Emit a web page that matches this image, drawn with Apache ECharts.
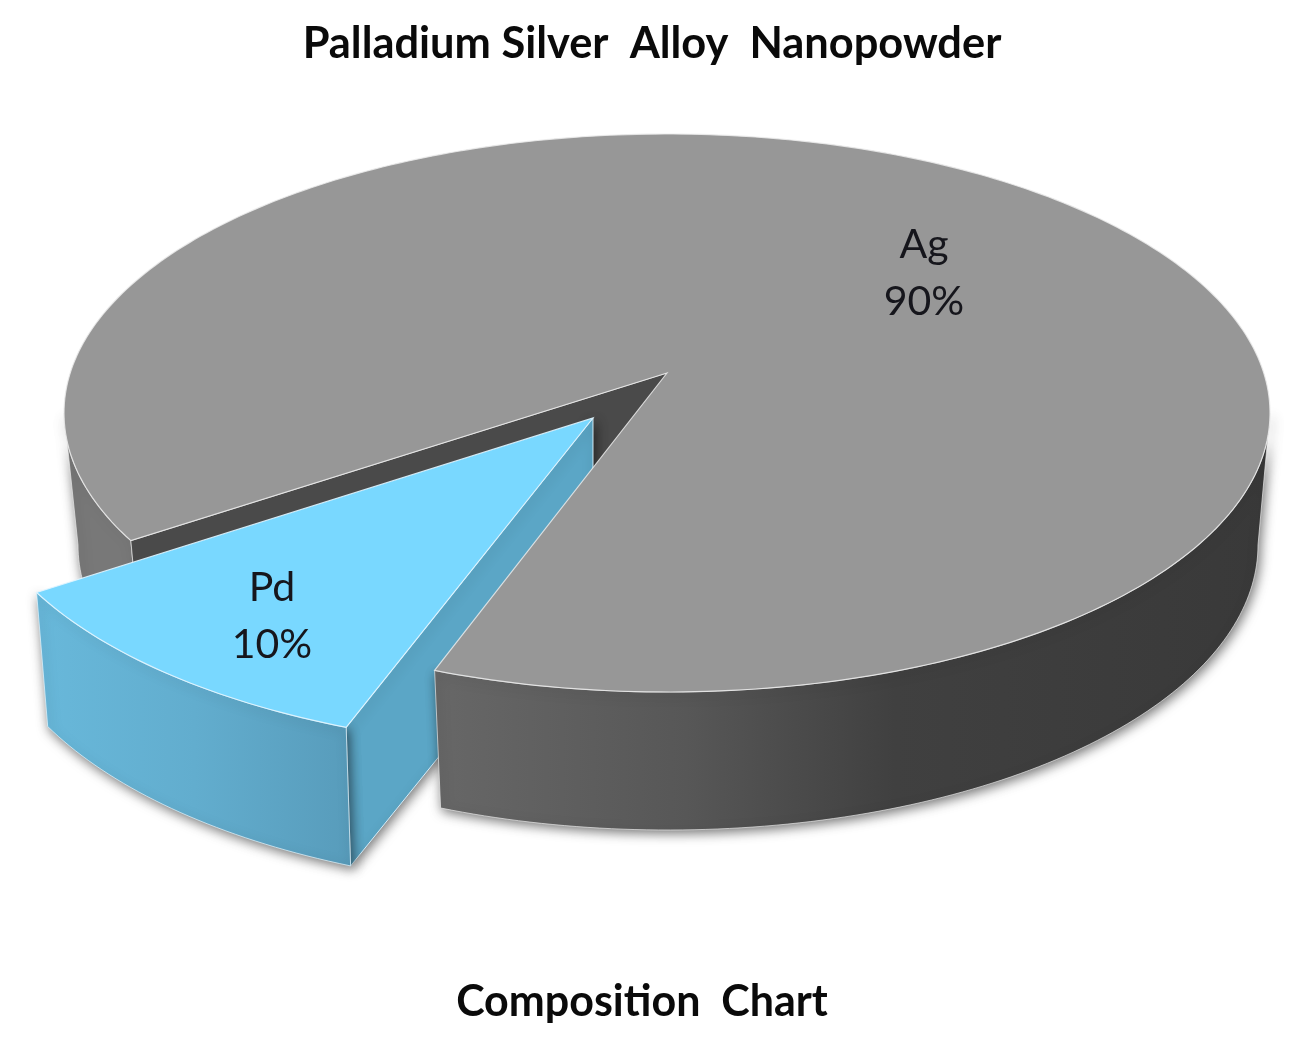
<!DOCTYPE html>
<html>
<head>
<meta charset="utf-8">
<style>html,body{margin:0;padding:0;background:#fff}#c{width:1313px;height:1037px}</style>
<script src="https://cdn.jsdelivr.net/npm/echarts@6/dist/echarts.min.js"></script>
</head>
<body>
<div id="c"></div>
<script>
const categories = ['Ag', 'Pd'];
const values = [90, 10];
const chartTitle = 'Palladium Silver  Alloy  Nanopowder';
const chartSubtitle = 'Composition  Chart';

const total = values.reduce((a, b) => a + b, 0);
const START_ANGLE = 145.7;          // angle, clockwise on screen, where the first slice begins
const PERSP = 0.0717;               // perspective shift of angles towards the viewer
const TOP = {cx: 667, cy: 413, rx: 603, ry: 279};
const BOT = {cx: 668, cy: 545, rx: 590, ry: 285};
const APEX = [667, 373], APEX_LOW = [667, 480];
const PD_TOP = {at: [593, 418], from: APEX, sx: 1.03, sy: 1.04, k: -0.025};
const PD_BOT = {at: [593, 463], from: [667, 425], sx: 1.03, sy: 1.052, k: -0.024};
const PD_FACE_LOW = [593, 566];
const LABEL_POS = [[924, 273], [272, 616]];
const EDGE = 'rgba(235,235,235,0.85)';
const EDGE_BLUE = 'rgba(225,245,255,0.9)';

// circle direction (deg) -> unit vector on the projected ellipse
function dir(deg) {
  const r = deg * Math.PI / 180, wx = Math.cos(r), wy = Math.sin(r);
  const nx = wx, ny = wy - PERSP;
  const dx = 1 - PERSP * wy, dy = PERSP * wx;
  const m = dx * dx + dy * dy;
  return [(nx * dx + ny * dy) / m, (ny * dx - nx * dy) / m];
}
// inverse of dir: ellipse direction (deg) -> circle direction (deg)
function inv(deg) {
  const r = deg * Math.PI / 180, zx = Math.cos(r), zy = Math.sin(r);
  const a1 = Math.atan2(zy + PERSP, zx), a2 = Math.atan2(-PERSP * zx, 1 + PERSP * zy);
  return (a1 - a2) * 180 / Math.PI;
}
const on = (e, deg) => { const d = dir(deg); return [e.cx + e.rx * d[0], e.cy + e.ry * d[1]]; };
function moved(p, m) {
  const x = (p[0] - m.from[0]), y = (p[1] - m.from[1]);
  return [m.at[0] + m.sx * x + m.k * y, m.at[1] + m.sy * y];
}
function arc(e, a, b, m) {
  const out = [], n = Math.max(2, Math.ceil(Math.abs(b - a)));
  for (let i = 0; i <= n; i++) {
    const p = on(e, a + (b - a) * i / n);
    out.push(m ? moved(p, m) : p);
  }
  return out;
}
const grad = (x0, x1, stops) => ({
  type: 'linear', x: x0, y: 0, x2: x1, y2: 0, global: true,
  colorStops: stops.map(s => ({offset: s[0], color: s[1]}))
});
const shape = (points, style, z2) => ({
  type: 'polygon', shape: {points}, style, z2
});
const shadow = {shadowBlur: 12, shadowColor: 'rgba(0,0,0,0.55)', shadowOffsetX: 2, shadowOffsetY: 3};

function renderSlice(params, api) {
  const i = params.dataIndex;
  let a = START_ANGLE;
  for (let j = 0; j < i; j++) a += values[j] / total * 360;
  const b = a + api.value(0) / total * 360;
  const children = [];
  if (categories[i] === 'Ag') {
    const leftEnd = inv(180), rightStart = inv(360) + 360;
    const ribbon = (p, q) => arc(TOP, p, q).concat(arc(BOT, q, p));
    children.push(shape(ribbon(a, leftEnd),
      Object.assign({fill: '#787878', stroke: EDGE, lineWidth: 0.8}, shadow), 1));
    children.push(shape([APEX, on(TOP, a), on(BOT, a), APEX_LOW],
      {fill: '#4a4a4a', stroke: EDGE, lineWidth: 0.8}, 1));
    children.push(shape(ribbon(rightStart, b),
      Object.assign({
        fill: grad(437, 1270, [[0, '#676767'], [0.3, '#575757'], [0.55, '#404040'], [1, '#393939']]),
        stroke: EDGE, lineWidth: 0.8
      }, shadow), 3));
    children.push(shape([APEX].concat(arc(TOP, a, b)),
      {fill: '#979797', stroke: EDGE, lineWidth: 1.2}, 4));
  } else {
    const topArc = arc(TOP, a, b, PD_TOP), botArc = arc(BOT, a, b, PD_BOT);
    children.push(shape([PD_TOP.at, topArc[0], botArc[0], PD_FACE_LOW],
      Object.assign({fill: '#5ba6c6', stroke: EDGE_BLUE, lineWidth: 1}, shadow), 2));
    children.push(shape(topArc.concat(botArc.slice().reverse()),
      Object.assign({
        fill: grad(40, 350, [[0, '#68b8da'], [0.5, '#62adce'], [1, '#589cbb']]),
        stroke: EDGE_BLUE, lineWidth: 0.8
      }, shadow), 5));
    children.push(shape([PD_TOP.at].concat(topArc),
      {fill: '#79d8ff', stroke: EDGE_BLUE, lineWidth: 1.2}, 6));
  }
  children.push({
    type: 'text', z2: 10,
    style: {
      x: LABEL_POS[i][0], y: LABEL_POS[i][1],
      text: categories[i] + '\n' + api.value(0) + '%',
      fill: '#16161c', font: '400 41px Lato',
      align: 'center', verticalAlign: 'middle', lineHeight: 57
    }
  });
  return {type: 'group', children};
}

const chart = echarts.init(document.getElementById('c'), null, {renderer: 'canvas'});
chart.setOption({
  animation: false,
  backgroundColor: '#ffffff',
  title: [
    {text: chartTitle, left: 647, top: 39, textAlign: 'center', textVerticalAlign: 'middle',
     textStyle: {fontFamily: 'Lato', fontWeight: 'bold', fontSize: 43.4, color: '#0a0a0a'}},
    {text: chartSubtitle, left: 637, top: 997, textAlign: 'center', textVerticalAlign: 'middle',
     textStyle: {fontFamily: 'Lato', fontWeight: 'bold', fontSize: 43, color: '#0a0a0a'}}
  ],
  series: [{
    type: 'custom',
    coordinateSystem: 'none',
    renderItem: renderSlice,
    data: values.map((v, i) => ({name: categories[i], value: [v]})),
    silent: true
  }]
});
</script>
</body>
</html>
